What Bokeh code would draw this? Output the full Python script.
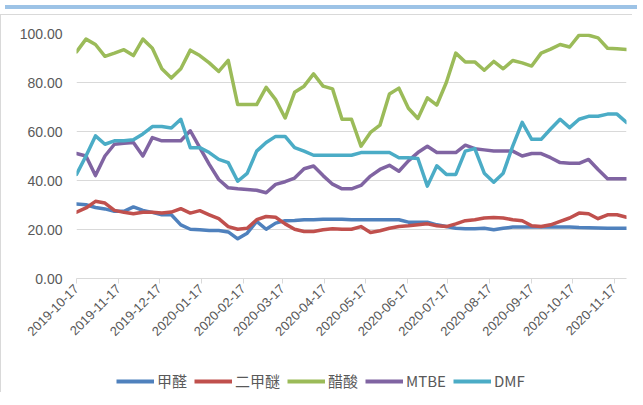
import math
import pandas as pd
from bokeh.plotting import figure
from bokeh.models import (Range1d, FixedTicker, PrintfTickFormatter, Legend, LegendItem,
                          Div, ColumnDataSource)
from bokeh.layouts import column
from bokeh.embed import file_html
from bokeh.resources import INLINE

# ---------------- data ----------------
start_date = "2019-10-17"
n_weeks = 59
tick_labels = ["2019-10-17", "2019-11-17", "2019-12-17", "2020-01-17", "2020-02-17",
               "2020-03-17", "2020-04-17", "2020-05-17", "2020-06-17", "2020-07-17",
               "2020-08-17", "2020-09-17", "2020-10-17", "2020-11-17"]
y_ticks = [0, 20, 40, 60, 80, 100]

series_names = ["甲醛", "二甲醚", "醋酸", "MTBE", "DMF"]

formaldehyde = [30.4, 30.1, 29.0, 28.4, 27.4, 27.4, 29.2, 27.8, 27.0, 26.0,
                26.0, 21.9, 20.1, 19.9, 19.6, 19.6, 19.0, 16.2, 18.5, 23.3,
                20.1, 22.6, 23.6, 23.7, 24.0, 24.0, 24.2, 24.2, 24.2, 24.0,
                24.0, 24.0, 24.0, 24.0, 24.0, 23.0, 23.0, 23.0, 21.9, 21.2,
                20.5, 20.3, 20.3, 20.5, 19.9, 20.5, 21.0, 21.0, 21.0, 21.0,
                21.0, 21.0, 21.0, 20.8, 20.7, 20.6, 20.5, 20.5, 20.5]
dme = [27.1, 28.8, 31.5, 30.8, 27.8, 27.0, 26.4, 27.0, 27.0, 26.7,
       27.1, 28.5, 26.7, 27.7, 26.0, 24.4, 21.2, 20.1, 20.5, 24.0,
       25.3, 25.0, 22.3, 20.1, 19.2, 19.2, 19.9, 20.3, 20.1, 20.1,
       21.2, 18.8, 19.5, 20.5, 21.2, 21.5, 21.9, 22.3, 21.5, 21.2,
       22.3, 23.6, 24.0, 24.7, 24.9, 24.7, 24.0, 23.6, 21.5, 21.2,
       21.9, 23.3, 24.7, 26.7, 26.4, 24.4, 26.0, 26.0, 25.0]
acetic = [92.5, 97.7, 95.5, 90.7, 92.0, 93.4, 91.0, 97.7, 94.0, 85.6,
          81.8, 85.6, 93.2, 91.0, 88.0, 84.5, 89.0, 71.0, 71.0, 71.0,
          78.0, 73.0, 65.5, 76.0, 78.5, 83.5, 78.5, 77.4, 65.0, 65.0,
          54.0, 59.6, 62.6, 75.3, 77.7, 69.5, 65.3, 73.7, 70.8, 80.0,
          92.0, 88.4, 88.4, 85.0, 88.6, 85.6, 89.0, 88.0, 86.7, 92.0,
          93.6, 95.5, 94.5, 99.3, 99.3, 98.2, 94.0, 93.8, 93.5]
mtbe = [51.0, 50.0, 42.0, 50.0, 54.8, 55.2, 55.5, 50.0, 57.5, 56.2,
        56.2, 56.2, 60.3, 53.4, 46.6, 40.4, 37.0, 36.6, 36.3, 36.0,
        35.0, 38.4, 39.5, 41.0, 44.8, 45.9, 42.0, 38.5, 36.6, 36.6,
        38.0, 41.8, 44.5, 46.2, 43.8, 48.0, 51.4, 54.0, 51.4, 51.4,
        51.4, 54.4, 53.0, 52.5, 52.0, 52.0, 52.0, 50.0, 51.0, 51.0,
        49.3, 47.3, 47.0, 47.0, 48.6, 44.5, 40.7, 40.7, 40.7]
dmf = [42.5, 50.0, 58.2, 54.8, 56.2, 56.2, 56.6, 59.0, 62.0, 62.0,
       61.4, 65.0, 53.4, 53.4, 51.4, 48.6, 47.3, 39.7, 42.9, 52.0,
       55.5, 58.0, 58.0, 53.4, 52.0, 50.3, 50.3, 50.3, 50.3, 50.3,
       51.4, 51.4, 51.4, 51.4, 49.3, 49.3, 49.0, 37.7, 46.0, 42.5,
       42.5, 52.0, 53.0, 43.0, 39.3, 43.0, 54.0, 63.7, 56.8, 56.8,
       61.0, 65.0, 61.6, 65.0, 66.2, 66.2, 67.1, 67.1, 63.7]

colors = ["#4F81BD", "#C0504D", "#9BBB59", "#8064A2", "#4BACC6"]

# ---------------- build ----------------
dates = pd.date_range(start_date, periods=n_weeks, freq="7D")
source = ColumnDataSource(dict(date=dates, s0=formaldehyde, s1=dme, s2=acetic, s3=mtbe, s4=dmf))

tick_dt = pd.to_datetime(tick_labels)
tick_ms = [float(t.value // 10**6) for t in tick_dt]

FIG_W = 632
border_css = {"border-left": "1px solid #d9d9d9"}

p = figure(width=FIG_W, height=329, output_backend="svg", toolbar_location=None,
           x_axis_type="datetime",
           x_range=Range1d(dates[0], dates[-1]), y_range=Range1d(0, 100),
           min_border_left=75, min_border_right=7, min_border_top=18, min_border_bottom=66,
           styles={"border-left": "1px solid #d9d9d9", "border-top": "1px solid #d9d9d9"})

p.outline_line_color = None
p.background_fill_color = "white"
p.border_fill_color = "white"
p.xgrid.grid_line_color = None
p.ygrid.grid_line_color = "#d9d9d9"
p.ygrid.grid_line_width = 1

# y axis
p.yaxis.ticker = FixedTicker(ticks=y_ticks)
p.yaxis.formatter = PrintfTickFormatter(format="%.2f")
p.yaxis.axis_line_color = None
p.yaxis.major_tick_line_color = None
p.yaxis.major_tick_out = 0
p.yaxis.major_tick_in = 0
p.yaxis.minor_tick_line_color = None
p.yaxis.major_label_standoff = 14
p.yaxis.major_label_text_font = "Liberation Sans"
p.yaxis.major_label_text_font_size = "14px"
p.yaxis.major_label_text_color = "#595959"

# x axis
p.xaxis.ticker = FixedTicker(ticks=tick_ms)
p.xaxis.major_label_overrides = {tm: lab for tm, lab in zip(tick_ms, tick_labels)}
p.xaxis.axis_line_color = "#d9d9d9"
p.xaxis.major_tick_line_color = "#d9d9d9"
p.xaxis.major_tick_out = 5
p.xaxis.major_tick_in = 0
p.xaxis.minor_tick_line_color = None
p.xaxis.major_label_orientation = math.pi / 4
p.xaxis.major_label_standoff = 3
p.xaxis.major_label_text_font = "Liberation Sans"
p.xaxis.major_label_text_font_size = "13px"
p.xaxis.major_label_text_color = "#595959"

for i, col in enumerate(colors):
    p.line("date", f"s{i}", source=source, line_color=col, line_width=3.5,
           line_join="round", line_cap="round")

# legend panel: same series, drawn outside its (empty) view, used only for the key
lp = figure(width=FIG_W, height=49, output_backend="svg", toolbar_location=None,
            x_axis_type="datetime", x_range=Range1d(dates[0], dates[-1]),
            y_range=Range1d(1000, 1001), min_border=0,
            styles=border_css)
lp.axis.visible = False
lp.grid.visible = False
lp.outline_line_color = None
lp.background_fill_color = "white"
lp.border_fill_color = "white"
items = []
for i, (name, col) in enumerate(zip(series_names, colors)):
    r = lp.line("date", f"s{i}", source=source, line_color=col, line_width=4)
    items.append(LegendItem(label=name, renderers=[r]))

legend = Legend(items=items, orientation="horizontal", location=(40, 1),
                label_text_font="Noto Sans CJK SC", label_text_font_size="15px",
                label_text_color="#595959", glyph_width=38, glyph_height=16,
                label_standoff=3, spacing=7, padding=2, margin=0,
                border_line_color=None, background_fill_alpha=0)
lp.add_layout(legend, "center")

bar = Div(text="", width=FIG_W, height=4, styles={"background-color": "#9DC3E6"})
layout = column(bar, p, lp, spacing=0)

open("out.html", "w").write(file_html(layout, INLINE))
